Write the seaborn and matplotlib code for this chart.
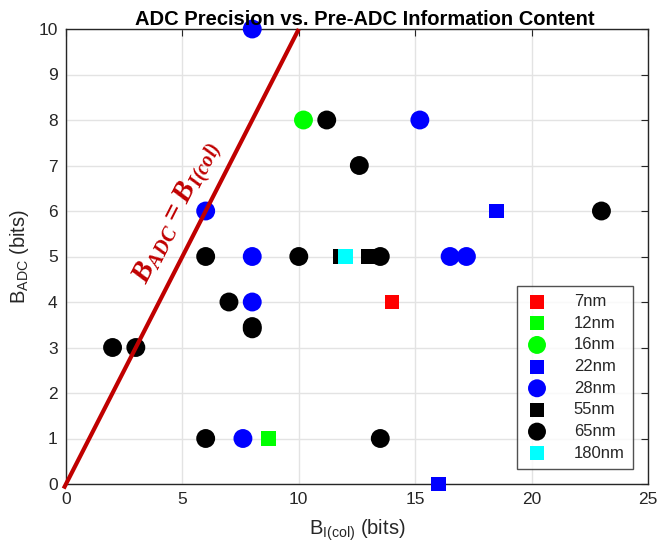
import pandas as pd
import seaborn as sns
import matplotlib.pyplot as plt

# technology nodes, legend order
nodes = ["7nm", "12nm", "16nm", "22nm", "28nm", "55nm", "65nm", "180nm"]
node_colors = ["#FF0000", "#00FF00", "#00FF00", "#0000FF", "#0000FF", "#000000", "#000000", "#00FFFF"]
node_markers = ["s", "s", "o", "s", "o", "s", "o", "s"]

# B_I(col) and B_ADC per node
b_icol = {
    "7nm": [14.0],
    "12nm": [8.7],
    "16nm": [10.2],
    "22nm": [18.5, 16.0],
    "28nm": [8.0, 15.2, 6.0, 8.0, 16.5, 17.2, 8.0, 7.6],
    "55nm": [11.8, 13.0],
    "65nm": [11.2, 12.6, 23.0, 6.0, 10.0, 13.5, 7.0, 8.0, 8.0, 2.0, 3.0, 6.0, 13.5],
    "180nm": [12.0],
}
b_adc = {
    "7nm": [4],
    "12nm": [1],
    "16nm": [8],
    "22nm": [6, 0],
    "28nm": [10, 8, 6, 5, 5, 5, 4, 1],
    "55nm": [5, 5],
    "65nm": [8, 7, 6, 5, 5, 5, 4, 3.46, 3.41, 3, 3, 1, 1],
    "180nm": [5],
}

rows = []
for n in nodes:
    for xv, yv in zip(b_icol[n], b_adc[n]):
        rows.append({"node": n, "bicol": xv, "badc": yv})
df = pd.DataFrame(rows)

sns.set_style("white")
plt.rcParams["font.family"] = ["Liberation Sans", "DejaVu Sans"]
plt.rcParams["mathtext.default"] = "regular"

fig = plt.figure(figsize=(6.58, 5.44), dpi=100)
ax = fig.add_axes([66 / 658, 60 / 544, 582 / 658, 455 / 544])

palette = dict(zip(nodes, node_colors))
markers = dict(zip(nodes, node_markers))
sizes = {n: (185 if m == "o" else 110) for n, m in zip(nodes, node_markers)}

for n in nodes:
    sub = df[df["node"] == n]
    sns.scatterplot(data=sub, x="bicol", y="badc", color=palette[n], marker=markers[n],
                    s=sizes[n], edgecolor="none", linewidth=0, ax=ax, label=n,
                    clip_on=False, zorder=3)

# identity line
ax.plot([-0.1, 10], [-0.1, 10], color="#C00000", lw=3, zorder=4, clip_on=False,
        solid_capstyle="butt")
ax.text(4.8, 5.95, r"$B_{ADC} = B_{I(col)}$", color="#C00000", fontsize=21,
        family="Liberation Serif", fontweight="bold", style="italic",
        rotation=63, ha="center", va="center")

ax.set_xlim(0, 25)
ax.set_ylim(0, 10)
ax.set_xticks(range(0, 26, 5))
ax.set_yticks(range(0, 11))
ax.grid(True, color="#e3e3e3", lw=1)
ax.set_axisbelow(True)
ax.tick_params(direction="in", length=5, top=True, right=True, labelsize=12.5,
               colors="#262626", pad=6)
for sp in ax.spines.values():
    sp.set_color("#262626")
    sp.set_linewidth(1)

ax.set_title("ADC Precision vs. Pre-ADC Information Content", fontsize=14.5,
             fontweight="bold", pad=3, color="black", x=0.514)
ax.set_xlabel(r"B$_{I(col)}$ (bits)", fontsize=14.5, color="#262626", labelpad=7)
ax.set_ylabel(r"B$_{ADC}$ (bits)", fontsize=14.5, color="#262626", labelpad=5)

leg = ax.legend(loc="lower right", bbox_to_anchor=(0.974, 0.033), borderaxespad=0,
                fontsize=12, frameon=True, fancybox=False, edgecolor="#262626",
                handletextpad=1.5, labelspacing=0.4, borderpad=0.5,
                handlelength=1.4, markerscale=0.95)
leg.get_frame().set_linewidth(1)

fig.savefig("out.png", dpi=100)
